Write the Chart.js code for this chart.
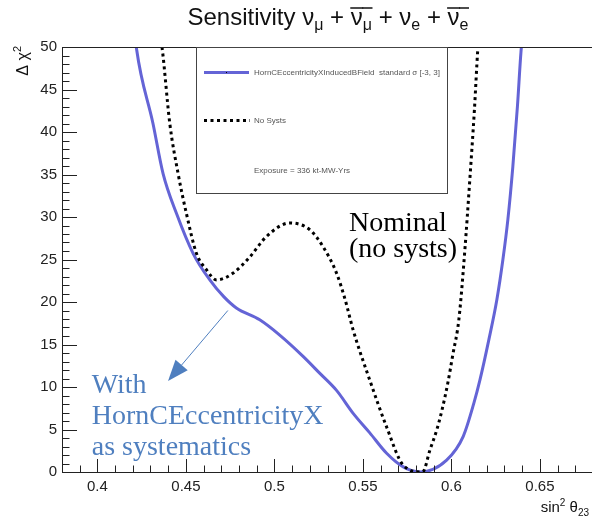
<!DOCTYPE html>
<html>
<head>
<meta charset="utf-8">
<script src="https://cdn.jsdelivr.net/npm/chart.js@4.4.1/dist/chart.umd.min.js"></script>
<style>
  html, body { margin: 0; padding: 0; overflow: hidden; background: #fff; }
  canvas { display: block; }
</style>
</head>
<body>
<canvas id="chart" width="594" height="523"></canvas>
<script>
// sin^2 theta23 and delta chi^2
const noSystX = [0.434, 0.4365, 0.4409, 0.4456, 0.4503, 0.456, 0.4616, 0.4673, 0.4767, 0.4861, 0.4955, 0.5087, 0.520, 0.5275, 0.5351, 0.5398, 0.5445, 0.5539, 0.5634, 0.5728, 0.5837, 0.5879, 0.5918, 0.5947, 0.598, 0.6008, 0.6042, 0.6076, 0.6104, 0.613, 0.6149, 0.6158];
const noSystY = [53, 50, 41.0, 35.1, 30.4, 25.7, 23.8, 22.6, 23.4, 25.3, 27.7, 29.3, 28.5, 26.5, 23.4, 20.4, 16.7, 10.8, 5.3, 0.8, 0, 2.6, 5.0, 7.3, 10.5, 13.8, 17.9, 26.1, 34.4, 42.6, 49.7, 52];

const systX = [0.4205, 0.4221, 0.4314, 0.4371, 0.4447, 0.4541, 0.4635, 0.4715, 0.4785, 0.4917, 0.503, 0.5162, 0.5257, 0.5351, 0.5445, 0.5539, 0.5634, 0.5728, 0.5822, 0.5973, 0.6067, 0.6127, 0.6161, 0.6212, 0.6257, 0.6291, 0.6319, 0.6347, 0.6373, 0.6393, 0.6405];
const systY = [53, 49.8, 41, 35.1, 30.4, 25.7, 22.6, 20.6, 19.3, 17.9, 16.1, 13.6, 11.6, 9.6, 6.9, 4.6, 2.2, 0.6, 0, 1.4, 4.2, 8.1, 10.8, 15.6, 20.3, 25.0, 29.7, 35.9, 43.0, 49.4, 52];

const xTickValues = [0.4, 0.45, 0.5, 0.55, 0.6, 0.65];
const xTickLabels = ['0.4', '0.45', '0.5', '0.55', '0.6', '0.65'];
const yTickValues = [0, 5, 10, 15, 20, 25, 30, 35, 40, 45, 50];
const yTickLabels = ['0', '5', '10', '15', '20', '25', '30', '35', '40', '45', '50'];

const legendLabels = ['HornCEccentricityXInducedBField  standard \u03c3 [-3, 3]', 'No Systs', 'Exposure = 336 kt-MW-Yrs'];

const blue = '#6464d6';
const noteBlue = '#4f7fbf';
const sans = '"Liberation Sans", Arial, sans-serif';
const serif = '"Liberation Serif", "Times New Roman", serif';

Chart.defaults.font.family = sans;

function toPoints(xs, ys) {
  return xs.map((x, i) => ({ x: x, y: ys[i] }));
}

// draws a row of text pieces (sub/superscripts, overlines)
function drawRich(ctx, parts, x, y, align, color) {
  let total = 0;
  parts.forEach(p => {
    ctx.font = p.size + 'px ' + (p.family || sans);
    p.w = ctx.measureText(p.t).width;
    total += p.w;
  });
  let cx = align === 'center' ? x - total / 2 : align === 'right' ? x - total : x;
  ctx.fillStyle = color;
  ctx.strokeStyle = color;
  ctx.textAlign = 'left';
  ctx.textBaseline = 'alphabetic';
  parts.forEach(p => {
    ctx.font = p.size + 'px ' + (p.family || sans);
    ctx.fillText(p.t, cx, y + (p.dy || 0));
    if (p.over) {
      ctx.lineWidth = 1.5;
      ctx.beginPath();
      ctx.moveTo(cx - 0.5, y - p.over);
      ctx.lineTo(cx + p.w + 0.5, y - p.over);
      ctx.stroke();
    }
    cx += p.w;
  });
}

const framePlugin = {
  id: 'frame',
  afterDatasetsDraw(chart) {
    const ctx = chart.ctx;
    const a = chart.chartArea;
    const xs = chart.scales.x;
    const ys = chart.scales.y;
    ctx.save();
    ctx.strokeStyle = '#222';
    ctx.lineWidth = 1;
    ctx.strokeRect(Math.round(a.left) + 0.5, Math.round(a.top) + 0.5, Math.round(a.right - a.left), Math.round(a.bottom - a.top));
    ctx.beginPath();
    for (let i = 38; i <= 68; i++) {
      const px = Math.round(xs.getPixelForValue(i / 100)) + 0.5;
      const len = i % 5 === 0 ? 13 : 6.5;
      ctx.moveTo(px, a.bottom);
      ctx.lineTo(px, a.bottom - len);
    }
    for (let v = 0; v <= 50; v++) {
      const py = Math.round(ys.getPixelForValue(v)) + 0.5;
      const len = v % 5 === 0 ? 15 : 7.5;
      ctx.moveTo(a.left, py);
      ctx.lineTo(a.left + len, py);
    }
    ctx.stroke();
    ctx.restore();
  }
};

const textPlugin = {
  id: 'texts',
  afterDraw(chart) {
    const ctx = chart.ctx;
    const a = chart.chartArea;
    const xs = chart.scales.x;
    const ys = chart.scales.y;
    ctx.save();

    // title
    drawRich(ctx, [
      { t: 'Sensitivity ', size: 24 },
      { t: '\u03bd', size: 24 },
      { t: '\u03bc', size: 16, dy: 5 },
      { t: ' + ', size: 24 },
      { t: '\u03bd', size: 24, over: 17 },
      { t: '\u03bc', size: 16, dy: 5, over: 17 },
      { t: ' + ', size: 24 },
      { t: '\u03bd', size: 24 },
      { t: 'e', size: 16, dy: 5 },
      { t: ' + ', size: 24 },
      { t: '\u03bd', size: 24, over: 17 },
      { t: 'e', size: 16, dy: 5, over: 17 }
    ], 328, 25, 'center', '#111');

    // y axis title
    ctx.save();
    ctx.translate(28, 46);
    ctx.rotate(-Math.PI / 2);
    drawRich(ctx, [
      { t: '\u0394 \u03c7', size: 16 },
      { t: '2', size: 11, dy: -7 }
    ], 0, 0, 'right', '#111');
    ctx.restore();

    // x axis title
    drawRich(ctx, [
      { t: 'sin', size: 15 },
      { t: '2', size: 10, dy: -6 },
      { t: ' \u03b8', size: 15 },
      { t: '23', size: 10, dy: 4 }
    ], 589, 512, 'right', '#111');

    // legend
    const lx0 = 196.5, ly0 = a.top + 0.5, lx1 = 447.5, ly1 = 193.5;
    ctx.fillStyle = '#fff';
    ctx.fillRect(lx0, ly0, lx1 - lx0, ly1 - ly0);
    ctx.strokeStyle = '#444';
    ctx.lineWidth = 1;
    ctx.strokeRect(lx0, ly0, lx1 - lx0, ly1 - ly0);

    ctx.strokeStyle = blue;
    ctx.lineWidth = 3;
    ctx.beginPath();
    ctx.moveTo(204, 72.5);
    ctx.lineTo(249, 72.5);
    ctx.stroke();
    ctx.fillStyle = '#000';
    ctx.fillRect(226, 72, 1, 1);

    ctx.strokeStyle = '#000';
    ctx.setLineDash([3, 3.5]);
    ctx.beginPath();
    ctx.moveTo(204, 120.5);
    ctx.lineTo(250, 120.5);
    ctx.stroke();
    ctx.setLineDash([]);

    ctx.fillStyle = '#555';
    ctx.font = '8px ' + sans;
    ctx.textAlign = 'left';
    ctx.textBaseline = 'middle';
    ctx.fillText(legendLabels[0], 254, 73);
    ctx.fillText(legendLabels[1], 254, 121);
    ctx.fillText(legendLabels[2], 254, 171);

    // annotations
    ctx.fillStyle = '#000';
    ctx.font = '28px ' + serif;
    ctx.textBaseline = 'alphabetic';
    ctx.fillText('Nominal', xs.getPixelForValue(0.5421), ys.getPixelForValue(28.4));
    ctx.fillText('(no systs)', xs.getPixelForValue(0.5421), ys.getPixelForValue(25.35));

    ctx.fillStyle = noteBlue;
    const nx = xs.getPixelForValue(0.3968);
    ctx.fillText('With', nx, ys.getPixelForValue(9.35));
    ctx.fillText('HornCEccentricityX', nx, ys.getPixelForValue(5.7));
    ctx.fillText('as systematics', nx, ys.getPixelForValue(2.05));

    // arrow
    const sx = xs.getPixelForValue(0.4737), sy = ys.getPixelForValue(19.0);
    const tx = xs.getPixelForValue(0.4399), ty = ys.getPixelForValue(10.7);
    const ang = Math.atan2(ty - sy, tx - sx);
    const hl = 21, hw = 8;
    const bx = tx - hl * Math.cos(ang), by = ty - hl * Math.sin(ang);
    ctx.strokeStyle = noteBlue;
    ctx.lineWidth = 1;
    ctx.beginPath();
    ctx.moveTo(sx, sy);
    ctx.lineTo(bx, by);
    ctx.stroke();
    ctx.beginPath();
    ctx.moveTo(tx, ty);
    ctx.lineTo(bx + hw * Math.sin(ang), by - hw * Math.cos(ang));
    ctx.lineTo(bx - hw * Math.sin(ang), by + hw * Math.cos(ang));
    ctx.closePath();
    ctx.fill();

    ctx.restore();
  }
};

const ctx = document.getElementById('chart').getContext('2d');
new Chart(ctx, {
  type: 'line',
  data: {
    datasets: [{
      label: legendLabels[0],
      data: toPoints(systX, systY),
      borderColor: blue,
      borderWidth: 3,
      pointRadius: 0,
      cubicInterpolationMode: 'monotone',
      fill: false,
      clip: 0,
      order: 1
    }, {
      label: legendLabels[1],
      data: toPoints(noSystX, noSystY),
      borderColor: '#000',
      borderWidth: 3,
      borderDash: [3, 3.5],
      pointRadius: 0,
      cubicInterpolationMode: 'monotone',
      fill: false,
      clip: 0,
      order: 0
    }]
  },
  options: {
    responsive: false,
    animation: false,
    layout: { padding: { top: 47, right: 1, left: 0, bottom: 0 } },
    plugins: {
      legend: { display: false },
      tooltip: { enabled: false },
      title: { display: false }
    },
    scales: {
      x: {
        type: 'linear',
        min: 0.38,
        max: 0.68,
        grid: { display: false, drawTicks: false },
        border: { display: false },
        afterFit: s => { s.height = 51; },
        afterBuildTicks: s => { s.ticks = xTickValues.map(v => ({ value: v })); },
        ticks: {
          padding: 6,
          color: '#222',
          font: { size: 15 },
          autoSkip: false,
          maxRotation: 0,
          callback: (v, i) => xTickLabels[i]
        }
      },
      y: {
        type: 'linear',
        min: 0,
        max: 50,
        grid: { display: false, drawTicks: false },
        border: { display: false },
        afterFit: s => { s.width = 62; },
        afterBuildTicks: s => { s.ticks = yTickValues.map(v => ({ value: v })); },
        ticks: {
          padding: 5,
          color: '#222',
          font: { size: 15 },
          autoSkip: false,
          callback: (v, i) => yTickLabels[i]
        }
      }
    }
  },
  plugins: [framePlugin, textPlugin]
});
</script>
</body>
</html>
